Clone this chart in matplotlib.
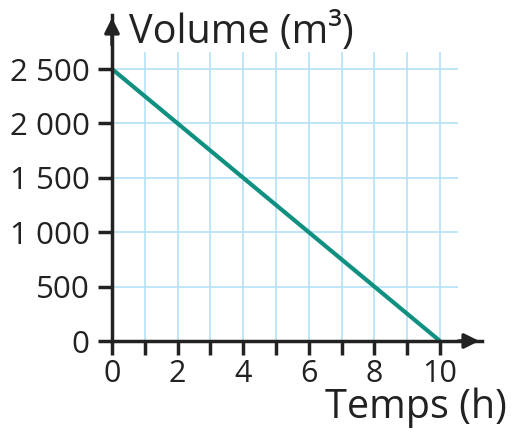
import matplotlib
matplotlib.use("Agg")
import matplotlib.pyplot as plt

time_h = [0, 10]
volume_m3 = [2500, 0]
x_ticks = [0, 2, 4, 6, 8, 10]
x_minor = [1, 2, 3, 4, 5, 6, 7, 8, 9, 10]
y_ticks = [0, 500, 1000, 1500, 2000, 2500]
y_labels = ["0", "500", "1 000", "1 500", "2 000", "2 500"]

plt.rcParams['font.family'] = ['Open Sans', 'DejaVu Sans']

fig = plt.figure(figsize=(5.12, 4.36), dpi=100)
W, H = 512, 436
x0px, x1px = 112, 482
y0px, y1px = 341, 15
ax = fig.add_axes([x0px / W, 1 - y0px / H, (x1px - x0px) / W, (y0px - y1px) / H])
xmax = (x1px - x0px) / 32.8
ymax = (y0px - y1px) / 54.4 * 500
ax.set_xlim(0, xmax)
ax.set_ylim(0, ymax)

grid_col = '#b5e1f6'
gx_end = 10.55
gy_end = 2655
ax.vlines(x_minor, 0, gy_end, color=grid_col, lw=1.2, zorder=1)
ax.hlines(y_ticks[1:], 0, gx_end, color=grid_col, lw=1.2, zorder=1)

ax.plot(time_h, volume_m3, color='#0f9080', lw=3, zorder=3, solid_capstyle='butt')

for s in ['top', 'right']:
    ax.spines[s].set_visible(False)
for s in ['left', 'bottom']:
    ax.spines[s].set_linewidth(2.5)
    ax.spines[s].set_color('#222222')
    ax.spines[s].set_zorder(4)

ax.set_xticks(x_minor, minor=True)
ax.set_xticks(x_ticks)
ax.set_yticks(y_ticks)
ax.set_yticklabels(y_labels)
ax.tick_params(axis='x', which='both', direction='out', length=10, width=2.5, color='#222222',
               labelsize=22, labelcolor='#222222', pad=3)
ax.tick_params(axis='y', direction='out', length=10, width=2.5, color='#222222',
               labelsize=22.5, labelcolor='#222222', pad=6)

# arrows
ax.annotate('', xy=(xmax, 0), xytext=(xmax - 0.8, 0),
            arrowprops=dict(arrowstyle='-|>', color='#222222', lw=2.5, mutation_scale=22),
            annotation_clip=False)
ax.annotate('', xy=(0, ymax), xytext=(0, ymax - 300),
            arrowprops=dict(arrowstyle='-|>', color='#222222', lw=2.5, mutation_scale=22),
            annotation_clip=False)

fig.text(129 / W, 1 - 33 / H, 'Volume (m³)', fontsize=28.5, color='#222222', va='center', ha='left')
fig.text(507 / W, 1 - 408 / H, 'Temps (h)', fontsize=28.5, color='#222222', va='center', ha='right')

fig.savefig('out.png', dpi=100)
